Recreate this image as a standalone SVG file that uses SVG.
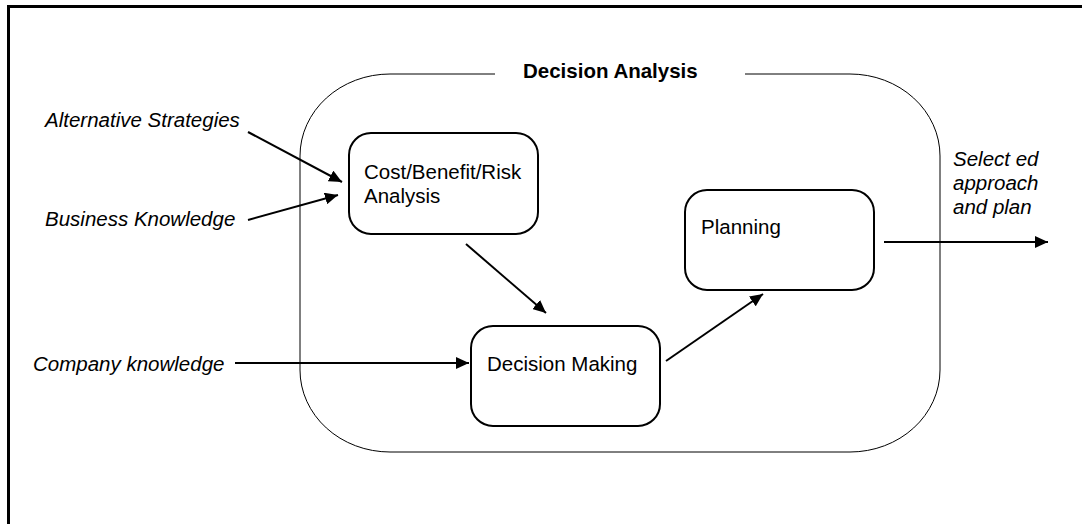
<svg xmlns="http://www.w3.org/2000/svg" width="1082" height="524" viewBox="0 0 1082 524">
  <defs>
    <marker id="arrow" markerUnits="userSpaceOnUse" markerWidth="14" markerHeight="12" refX="13" refY="6" orient="auto">
      <path d="M0,0 L13,6 L0,12 Z" fill="#000"/>
    </marker>
    <style>
      .frame { fill: none; stroke: #000; stroke-width: 3; }
      .boundary { fill: none; stroke: #000; stroke-width: 1; }
      .box { fill: #fff; stroke: #000; stroke-width: 2; }
      .label { font-family: "Liberation Sans", Arial, sans-serif; font-size: 20.5px; fill: #000; }
      .input { font-style: italic; }
      .title { font-weight: bold; }
      .flow { fill: none; stroke: #000; stroke-width: 2; marker-end: url(#arrow); }
    </style>
  </defs>

  <rect width="1082" height="524" fill="#fff"/>

  <!-- page frame: left and top rules -->
  <path class="frame" d="M8.5,524 V6.5 H1082"/>

  <!-- Decision Analysis boundary, open at the top for its title -->
  <g id="decision-analysis">
    <path class="boundary" d="M495,74 H390 A90,82 0 0 0 300,156 V370 A90,82 0 0 0 390,452 H850 A90,82 0 0 0 940,370 V156 A90,82 0 0 0 850,74 H745"/>
    <text class="label title" x="523" y="78">Decision Analysis</text>
  </g>

  <g id="cost-benefit-risk">
    <rect class="box" x="349" y="133" width="189" height="101" rx="22" ry="22"/>
    <text class="label" x="364" y="179">Cost/Benefit/Risk</text>
    <text class="label" x="364" y="203">Analysis</text>
  </g>

  <g id="decision-making">
    <rect class="box" x="471" y="326" width="189" height="100" rx="22" ry="22"/>
    <text class="label" x="487" y="371">Decision Making</text>
  </g>

  <g id="planning">
    <rect class="box" x="685" y="190" width="189" height="100" rx="22" ry="22"/>
    <text class="label" x="701" y="234">Planning</text>
  </g>

  <!-- inputs and output -->
  <g id="inputs">
    <text class="label input" x="45" y="127">Alternative Strategies</text>
    <text class="label input" x="45" y="226">Business Knowledge</text>
    <text class="label input" x="33" y="371">Company knowledge</text>
  </g>
  <g id="output">
    <text class="label input" x="953" y="166">Select ed</text>
    <text class="label input" x="953" y="190">approach</text>
    <text class="label input" x="953" y="214">and plan</text>
  </g>

  <g id="connectors">
    <line class="flow" x1="248" y1="132" x2="342" y2="182"/>
    <line class="flow" x1="248" y1="220" x2="338" y2="195"/>
    <line class="flow" x1="235" y1="363" x2="469" y2="363"/>
    <line class="flow" x1="466" y1="244" x2="546" y2="313"/>
    <line class="flow" x1="666" y1="361" x2="763" y2="294"/>
    <line class="flow" x1="884" y1="242" x2="1048" y2="242"/>
  </g>
</svg>
